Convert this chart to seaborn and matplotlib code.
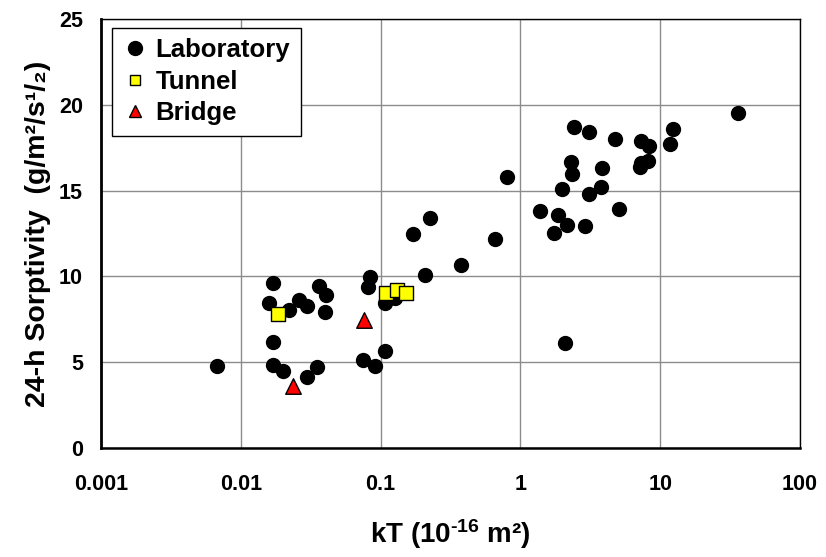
import numpy as np
import pandas as pd
import matplotlib
matplotlib.use('Agg')
import matplotlib.pyplot as plt
from matplotlib.lines import Line2D
import seaborn as sns

# kT (10^-16 m2) and 24-h sorptivity
lab_kt = [0.0068, 0.0170, 0.0158, 0.0220, 0.0261, 0.0296, 0.0365, 0.0409, 0.0400,
          0.0170, 0.0170, 0.0200, 0.0348, 0.0296, 0.0843, 0.0816, 0.0748, 0.0905,
          0.107, 0.107, 0.126, 0.208, 0.170, 0.224, 0.373, 0.807, 0.655,
          2.43, 3.11, 4.72, 7.35, 8.34, 12.4, 11.7, 2.30, 2.35, 3.85, 8.24, 7.35,
          7.16, 2.00, 3.11, 3.77, 1.37, 1.87, 2.14, 1.74, 2.91, 5.09, 2.10, 36.1]
lab_s = [4.80, 9.61, 8.46, 8.03, 8.63, 8.27, 9.45, 8.93, 7.95,
         6.20, 4.84, 4.47, 4.74, 4.16, 9.96, 9.38, 5.13, 4.80,
         5.64, 8.44, 8.73, 10.11, 12.49, 13.42, 10.68, 15.81, 12.18,
         18.69, 18.44, 18.03, 17.87, 17.62, 18.61, 17.72, 16.65, 15.97, 16.32, 16.74, 16.61,
         16.38, 15.07, 14.80, 15.23, 13.83, 13.58, 12.99, 12.50, 12.91, 13.90, 6.13, 19.53]

tunnel_kt = [0.0186, 0.109, 0.131, 0.151]
tunnel_s = [7.78, 9.02, 9.22, 9.02]

bridge_kt = [0.0236, 0.0757]
bridge_s = [3.60, 7.47]

x_ticks = [0.001, 0.01, 0.1, 1, 10, 100]
x_tick_labels = ['0.001', '0.01', '0.1', '1', '10', '100']
y_ticks = [0, 5, 10, 15, 20, 25]

df = pd.concat([
    pd.DataFrame({'kT': lab_kt, 'sorptivity': lab_s, 'group': 'Laboratory'}),
    pd.DataFrame({'kT': tunnel_kt, 'sorptivity': tunnel_s, 'group': 'Tunnel'}),
    pd.DataFrame({'kT': bridge_kt, 'sorptivity': bridge_s, 'group': 'Bridge'}),
], ignore_index=True)

sns.set_style('white')
plt.rcParams['font.family'] = ['Liberation Sans', 'DejaVu Sans']
plt.rcParams['font.weight'] = 'bold'
plt.rcParams['text.color'] = 'black'
plt.rcParams['axes.labelcolor'] = 'black'
plt.rcParams['xtick.color'] = 'black'
plt.rcParams['ytick.color'] = 'black'
plt.rcParams['mathtext.fontset'] = 'custom'
plt.rcParams['mathtext.rm'] = 'Liberation Sans:bold'
plt.rcParams['mathtext.it'] = 'Liberation Sans:bold'
plt.rcParams['mathtext.bf'] = 'Liberation Sans:bold'

fig = plt.figure(figsize=(8.26, 5.57), dpi=100)
ax = fig.add_axes([0.1223, 0.1957, 0.8462, 0.7702])

styles = {
    'Laboratory': dict(marker='o', color='black', s=100),
    'Tunnel': dict(marker='s', color='#ffff00', s=95),
    'Bridge': dict(marker='^', color='#ff0000', s=125),
}
for name, st in styles.items():
    sub = df[df['group'] == name]
    sns.scatterplot(data=sub, x='kT', y='sorptivity', ax=ax, marker=st['marker'],
                    color=st['color'], s=st['s'], edgecolor='black', linewidth=1,
                    legend=False, zorder=3)

ax.set_xscale('log')
ax.set_xlim(0.001, 100)
ax.set_ylim(0, 25)
ax.set_xticks(x_ticks)
ax.set_xticklabels(x_tick_labels)
ax.set_yticks(y_ticks)
ax.minorticks_off()
ax.grid(True, which='major', color='#8c8c8c', linewidth=1)
ax.set_axisbelow(True)

for side in ['top', 'right']:
    ax.spines[side].set_color('black')
    ax.spines[side].set_linewidth(1)
ax.spines['left'].set_color('black')
ax.spines['left'].set_linewidth(2)
ax.spines['bottom'].set_color('black')
ax.spines['bottom'].set_linewidth(1.8)

ax.tick_params(axis='both', direction='in', length=5, width=1, color='black',
               labelsize=15.5, labelcolor='black')
ax.tick_params(axis='x', pad=19)
ax.tick_params(axis='y', pad=13)
ax.tick_params(top=False, right=False)

ax.set_xlabel('kT (10$^{\u2010 16}$ m²)', fontsize=20, fontweight='bold', labelpad=16)
ax.set_ylabel('24-h Sorptivity  (g/m²/s¹/₂)', fontsize=20.5, fontweight='bold', labelpad=6)

handles = [
    Line2D([], [], linestyle='none', marker='o', markersize=10, markerfacecolor='black',
           markeredgecolor='black', label='Laboratory'),
    Line2D([], [], linestyle='none', marker='s', markersize=6.5, markerfacecolor='#ffff00',
           markeredgecolor='black', label='Tunnel'),
    Line2D([], [], linestyle='none', marker='^', markersize=9, markerfacecolor='#ff0000',
           markeredgecolor='black', label='Bridge'),
]
leg = ax.legend(handles=handles, loc='upper left', bbox_to_anchor=(0.0157, 0.98),
                borderaxespad=0, frameon=True, fancybox=False, framealpha=1,
                edgecolor='black', prop={'size': 18.5, 'weight': 'bold'},
                handlelength=1.0, handletextpad=0.3, borderpad=0.4, labelspacing=0.3)
leg.get_frame().set_linewidth(1)

fig.savefig('out.png', dpi=100)
